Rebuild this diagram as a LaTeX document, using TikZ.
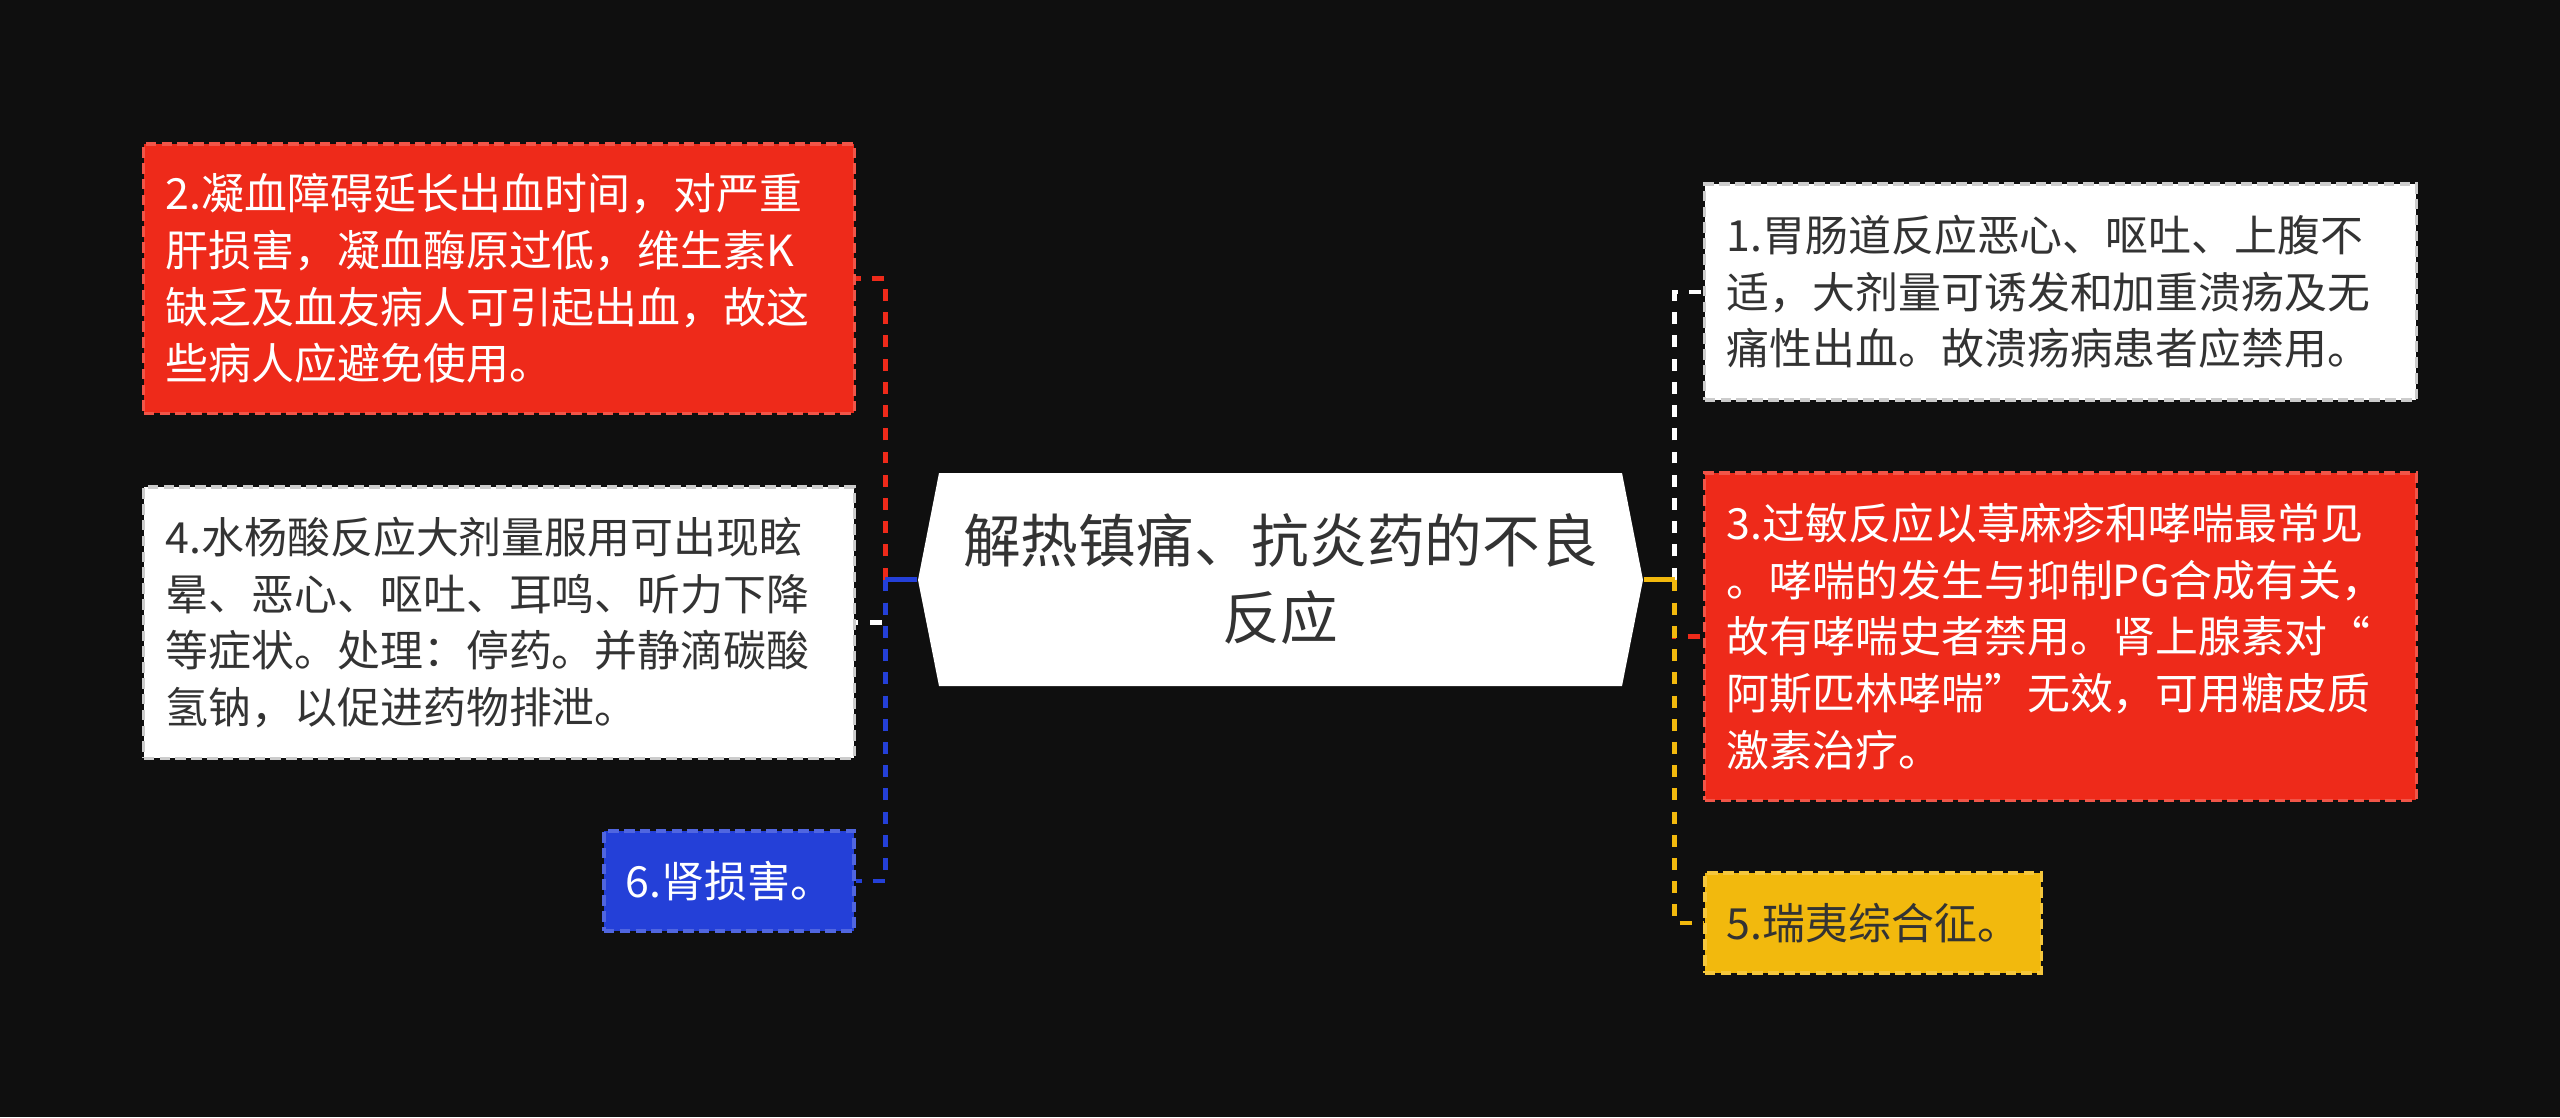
\documentclass[tikz,border=0pt]{standalone}
\usepackage{fontspec}
\setmainfont{Noto Sans CJK SC}
\usetikzlibrary{positioning}

\definecolor{bgdark}{HTML}{0F0F0F}
\definecolor{mred}{HTML}{EE2A1A}
\definecolor{mblue}{HTML}{2440D8}
\definecolor{myellow}{HTML}{F2B90D}
\definecolor{mtext}{HTML}{333333}

\begin{document}
\begin{tikzpicture}[
    x=0.01cm, y=-0.01cm,
    box/.style={rectangle, line width=0.9pt, dash pattern=on 3pt off 1.5pt,
        inner xsep=0.22cm, inner ysep=0pt, align=left,
        font=\fontsize{12.2}{16.1}\selectfont},
    redbox/.style={box, fill=mred, draw=mred!80!white, text=white},
    whitebox/.style={box, fill=white, draw=black!20, text=mtext},
    bluebox/.style={box, fill=mblue, draw=mblue!80!white, text=white},
    yellowbox/.style={box, fill=myellow, draw=myellow!80!white, text=mtext},
    rootbox/.style={minimum width=7.25cm, minimum height=2.13cm, align=center,
        text=mtext, font=\fontsize{16.4}{21.9}\selectfont},
    stem/.style={line width=1.4pt},
    link/.style={line width=1.4pt, dash pattern=on 3.4pt off 3.2pt}
    ]
    % background
    \fill[bgdark] (0,0) rectangle (2560,1117);

    % central topic
    \fill[white] (918,580) -- (939,473) -- (1622,473) -- (1643,580)
        -- (1622,686) -- (939,686) -- cycle;
    \node[rootbox] (root) at (1280.5,579.5) {解热镇痛、抗炎药的不良\\反应};
    \coordinate (ltrunk) at ([xshift=-0.32cm]root.west);
    \coordinate (rtrunk) at ([xshift=0.31cm]root.east);

    % left branches
    \node[redbox, text width=6.66cm, minimum height=2.69cm] (n2) at (499,278.5)
        {2.凝血障碍延长出血时间，对严重\\肝损害，凝血酶原过低，维生素K\\缺乏及血友病人可引起出血，故这\\些病人应避免使用。};
    \node[whitebox, text width=6.66cm, minimum height=2.71cm] (n4) at (499,622.5)
        {4.水杨酸反应大剂量服用可出现眩\\晕、恶心、呕吐、耳鸣、听力下降\\等症状。处理：停药。并静滴碳酸\\氢钠，以促进药物排泄。};
    \node[bluebox, text width=2.06cm, minimum height=1.00cm] (n6) at (729,881)
        {6.肾损害。};

    % right branches
    \node[whitebox, text width=6.67cm, minimum height=2.16cm] (n1) at (2060.5,292)
        {1.胃肠道反应恶心、呕吐、上腹不\\适，大剂量可诱发和加重溃疡及无\\痛性出血。故溃疡病患者应禁用。};
    \node[redbox, text width=6.67cm, minimum height=3.27cm] (n3) at (2060.5,636.5)
        {3.过敏反应以荨麻疹和哮喘最常见\\。哮喘的发生与抑制PG合成有关，\\故有哮喘史者禁用。肾上腺素对“\\阿斯匹林哮喘”无效，可用糖皮质\\激素治疗。};
    \node[yellowbox, text width=2.92cm, minimum height=1.00cm] (n5) at (1873,923)
        {5.瑞夷综合征。};

    % connectors
    \draw[stem, mred] (root.west) -- (ltrunk);
    \draw[link, mred] (ltrunk) |- (n2.east);
    \draw[stem, white] (root.west) -- (ltrunk);
    \draw[link, white] (ltrunk) |- (n4.east);
    \draw[stem, mblue] (root.west) -- (ltrunk);
    \draw[link, mblue] (ltrunk) |- (n6.east);

    \draw[stem, white] (root.east) -- (rtrunk);
    \draw[link, white] (rtrunk) |- (n1.west);
    \draw[stem, mred] (root.east) -- (rtrunk);
    \draw[link, mred] (rtrunk) |- (n3.west);
    \draw[stem, myellow] (root.east) -- (rtrunk);
    \draw[link, myellow] (rtrunk) |- (n5.west);

\end{tikzpicture}
\end{document}
